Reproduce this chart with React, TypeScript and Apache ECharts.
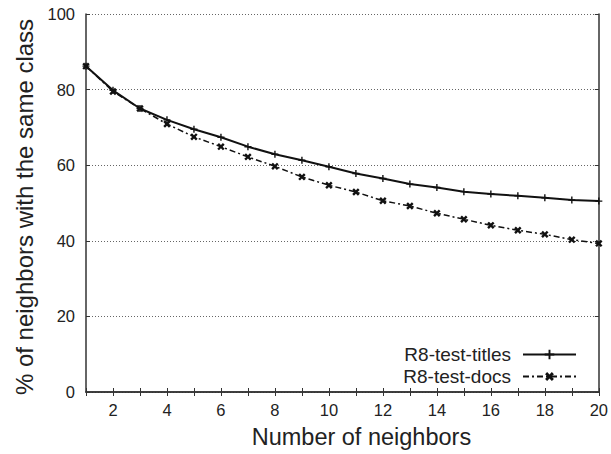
import React, { useEffect, useRef } from "react";
import * as echarts from "echarts";

const neighbors = [1, 2, 3, 4, 5, 6, 7, 8, 9, 10, 11, 12, 13, 14, 15, 16, 17, 18, 19, 20];
const titlesValues = [86.2, 79.8, 75.0, 72.0, 69.5, 67.4, 64.9, 62.9, 61.3, 59.6, 57.8, 56.5, 55.0, 54.1, 53.0, 52.4, 51.9, 51.4, 50.8, 50.5];
const docsValues = [86.2, 79.5, 75.0, 70.9, 67.5, 64.9, 62.2, 59.7, 56.9, 54.7, 52.9, 50.6, 49.2, 47.3, 45.7, 44.1, 42.8, 41.7, 40.3, 39.3];
const seriesNames = ["R8-test-titles", "R8-test-docs"];
const yTicks = [0, 20, 40, 60, 80, 100];

const PLUS = "path://M4,0 H6 V4 H10 V6 H6 V10 H4 V6 H0 V4 H4 Z";
const CROSS = "path://M3.5,0 H6.5 V3.5 H10 V6.5 H6.5 V10 H3.5 V6.5 H0 V3.5 H3.5 Z";

export default function App() {
  const ref = useRef<HTMLDivElement>(null);
  useEffect(() => {
    if (!ref.current) return;
    const chart = echarts.init(ref.current, null, { renderer: "svg" });
    const font = "'Liberation Sans', Arial, Helvetica, sans-serif";
    const axisLine = { show: true, lineStyle: { color: "#333", width: 1.5 } };
    chart.setOption({
      animation: false,
      textStyle: { fontFamily: font },
      grid: { left: 86, right: 11, top: 14, bottom: 62 },
      legend: {
        orient: "vertical",
        right: 29,
        bottom: 63,
        align: "right",
        itemWidth: 53,
        itemHeight: 12,
        itemGap: 3,
        textStyle: { fontSize: 19, color: "#222", fontFamily: font, padding: [0, 7, 0, 0] },
        data: seriesNames,
      },
      xAxis: [
        {
          type: "value",
          position: "bottom",
          min: 1,
          max: 20,
          interval: 1,
          name: "Number of neighbors",
          nameLocation: "middle",
          nameGap: 33,
          nameTextStyle: { fontSize: 23.5, color: "#222", fontFamily: font, padding: [0, 0, 0, 38] },
          axisLine,
          axisTick: { show: true, inside: true, length: 4, lineStyle: { color: "#333" } },
          axisLabel: {
            fontSize: 16.5,
            color: "#222",
            margin: 9,
            fontFamily: font,
            formatter: (v: number) => (v % 2 === 0 ? String(v) : ""),
          },
          splitLine: { show: false },
        },
        {
          type: "value",
          position: "top",
          min: 1,
          max: 20,
          interval: 1,
          axisLine,
          axisTick: { show: true, inside: true, length: 4, lineStyle: { color: "#333" } },
          axisLabel: { show: false },
          splitLine: { show: false },
        },
      ],
      yAxis: [
        {
          type: "value",
          position: "left",
          min: yTicks[0],
          max: yTicks[yTicks.length - 1],
          interval: 20,
          name: "% of neighbors with the same class",
          nameLocation: "middle",
          nameGap: 50,
          nameTextStyle: { fontSize: 24, color: "#222", fontFamily: font, padding: [0, 8, 0, 0] },
          axisLine,
          axisTick: { show: true, inside: true, length: 4, lineStyle: { color: "#333" } },
          axisLabel: { fontSize: 16.5, color: "#222", margin: 11, fontFamily: font },
          splitLine: { show: true, lineStyle: { color: "#666", type: [1, 2], width: 1 } },
        },
        {
          type: "value",
          position: "right",
          min: 0,
          max: 100,
          interval: 20,
          axisLine,
          axisTick: { show: true, inside: true, length: 4, lineStyle: { color: "#333" } },
          axisLabel: { show: false },
          splitLine: { show: false },
        },
      ],
      series: [
        {
          name: seriesNames[0],
          type: "line",
          data: neighbors.map((n, i) => [n, titlesValues[i]]),
          symbol: PLUS,
          symbolSize: 7,
          itemStyle: { color: "#111" },
          lineStyle: { color: "#111", width: 2 },
          z: 3,
        },
        {
          name: seriesNames[1],
          type: "line",
          data: neighbors.map((n, i) => [n, docsValues[i]]),
          symbol: CROSS,
          symbolSize: 8,
          symbolRotate: 45,
          itemStyle: { color: "#111" },
          lineStyle: { color: "#111", width: 1.5, type: [6, 3, 2, 3] },
          z: 2,
        },
      ],
    });
    return () => chart.dispose();
  }, []);
  return <div ref={ref} style={{ width: 611, height: 454, position: "absolute", left: 0, top: 0 }} />;
}
